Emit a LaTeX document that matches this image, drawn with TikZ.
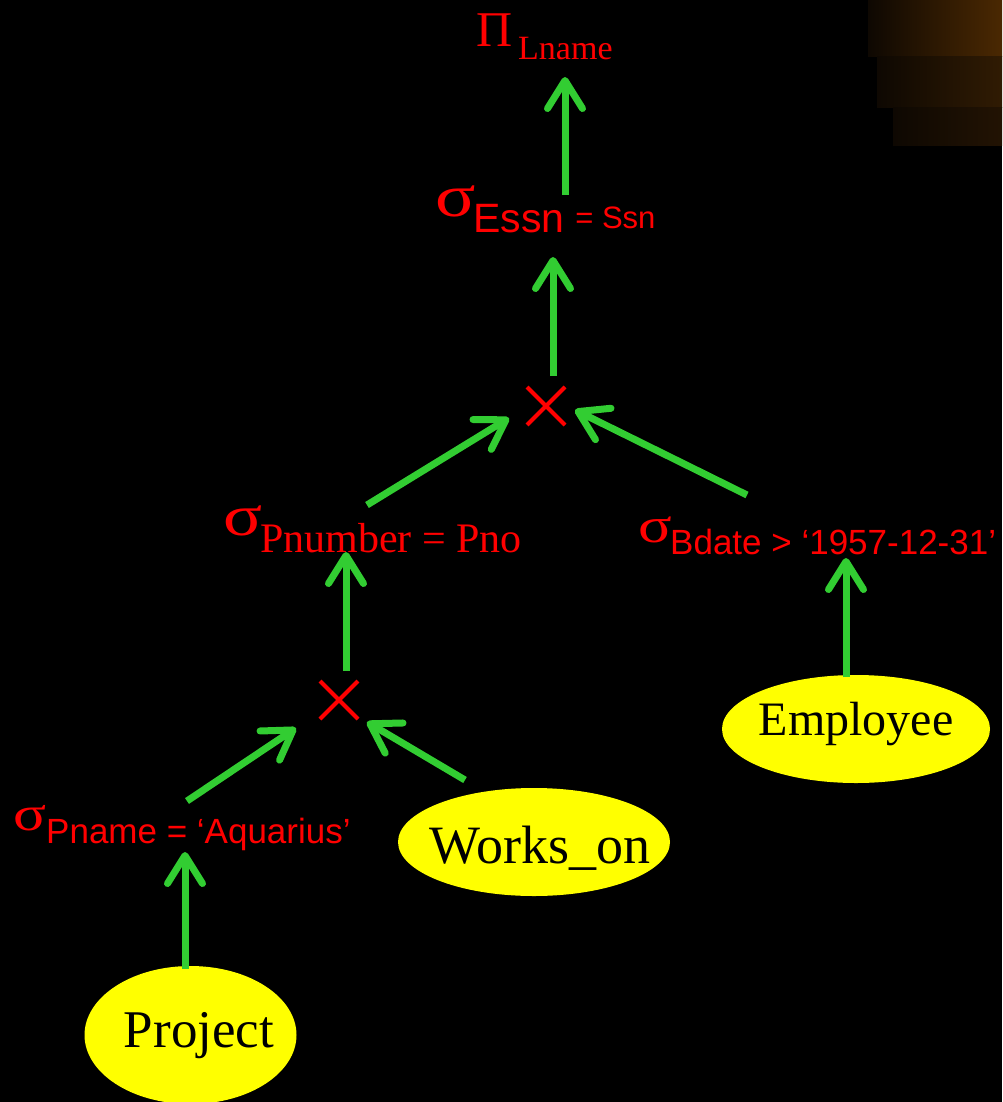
\documentclass[tikz,border=0pt]{standalone}
\usepackage{graphicx}
\usepackage{fontspec}
\setmainfont{Liberation Serif}
\newfontfamily\arialf{Liberation Sans}
\usetikzlibrary{arrows.meta,shapes.geometric,shapes.misc}
\definecolor{opred}{RGB}{255,0,0}
\definecolor{flowgreen}{RGB}{50,205,50}
\definecolor{relyellow}{RGB}{255,255,0}
\definecolor{glowA}{RGB}{74,40,2}
\definecolor{glowB}{RGB}{48,27,3}
\definecolor{glowC}{RGB}{34,19,3}
\definecolor{glowL}{RGB}{14,8,2}
\newcommand\fsz[1]{\fontsize{#1}{#1}\selectfont}
% a wide, round selection sigma
\newcommand\selsig[1]{\rlap{\fsz{#1}\scalebox{1.25}[1]{σ}}}

\begin{document}
\begin{tikzpicture}[x=1pt,y=-1pt,
  flow/.style={draw=flowgreen, line width=7pt,
    -{Straight Barb[length=28pt,width=35pt,round]}},
  oplabel/.style={text=opred, inner sep=0pt, anchor=base west},
  product/.style={cross out, draw=opred, line width=4pt,
    minimum size=34pt, inner sep=0pt},
  relation/.style={ellipse, fill=relyellow, inner sep=0pt, text=black,
    text depth=0pt},
]
% page and corner glow
\fill[black] (0,0) rectangle (1002,1102);
\useasboundingbox (0,0) rectangle (1002,1102);
\shade[left color=glowL, right color=glowA] (868,0) rectangle (1002,57);
\shade[left color=glowL, right color=glowB] (877,57) rectangle (1002,108);
\shade[left color=glowL, right color=glowC] (893,108) rectangle (1002,146);

% operators
\node[oplabel] (proj) at (476,47)
  {\rlap{\fsz{50}Π}\hspace*{42pt}\raisebox{-13pt}{\fsz{34}Lname}};
\node[oplabel] (selEssn) at (435,216)
  {\selsig{60}\hspace*{38pt}\raisebox{-16pt}{\arialf\fsz{41}Essn\hspace*{11pt}\fsz{31}\raisebox{4pt}{= Ssn}}};
\node[product] (prodTop) at (546,406) {};
\node[oplabel] (selPnum) at (223,535)
  {\selsig{58}\hspace*{37pt}\raisebox{-17pt}{\fsz{42}Pnumber = Pno}};
\node[oplabel] (selBdate) at (638,542)
  {\selsig{50}\hspace*{32pt}\raisebox{-12pt}{\arialf\fsz{35}Bdate > ‘1957-12-31’}};
\node[product] (prodLow) at (339,700) {};
\node[oplabel] (selPname) at (13,830)
  {\selsig{49}\hspace*{33pt}\raisebox{-13pt}{\arialf\fsz{35}Pname = ‘Aquarius’}};

% base relations
\node[relation, minimum width=268pt, minimum height=108pt, text height=12pt]
  (employee) at (856,729) {\makebox[0pt]{\fsz{48}Employee}};
\node[relation, minimum width=272pt, minimum height=108pt, text height=42pt]
  (workson) at (534,842) {\makebox[0pt]{\fsz{54}\hspace*{12pt}Works\_on}};
\node[relation, minimum width=212pt, minimum height=138pt, text height=24pt]
  (project) at (190.5,1035) {\makebox[0pt]{\fsz{53}\hspace*{17pt}Project}};

% connector ends
\coordinate (proj-in)      at (565,77);
\coordinate (selEssn-out)  at (565,195);
\coordinate (selEssn-in)   at (553,257);
\coordinate (prodTop-out)  at (553,376);
\coordinate (prodTop-inL)  at (509,418);
\coordinate (prodTop-inR)  at (575,410);
\coordinate (selPnum-out)  at (367,505);
\coordinate (selBdate-out) at (747,495);
\coordinate (selPnum-in)   at (346,552);
\coordinate (prodLow-out)  at (346,671);
\coordinate (prodLow-inL)  at (296,728);
\coordinate (prodLow-inR)  at (367,722);
\coordinate (selPname-out) at (187,801);
\coordinate (workson-out)  at (465,780);
\coordinate (selPname-in)  at (185,852);
\coordinate (project-out)  at (185,969);
\coordinate (selBdate-in)  at (846,558);
\coordinate (employee-out) at (846,677);

% data flow
\draw[flow] (selEssn-out) -- (proj-in);
\draw[flow] (prodTop-out) -- (selEssn-in);
\draw[flow] (selPnum-out) -- (prodTop-inL);
\draw[flow] (selBdate-out) -- (prodTop-inR);
\draw[flow] (prodLow-out) -- (selPnum-in);
\draw[flow] (selPname-out) -- (prodLow-inL);
\draw[flow] (workson-out) -- (prodLow-inR);
\draw[flow] (project-out) -- (selPname-in);
\draw[flow] (employee-out) -- (selBdate-in);
\end{tikzpicture}
\end{document}
